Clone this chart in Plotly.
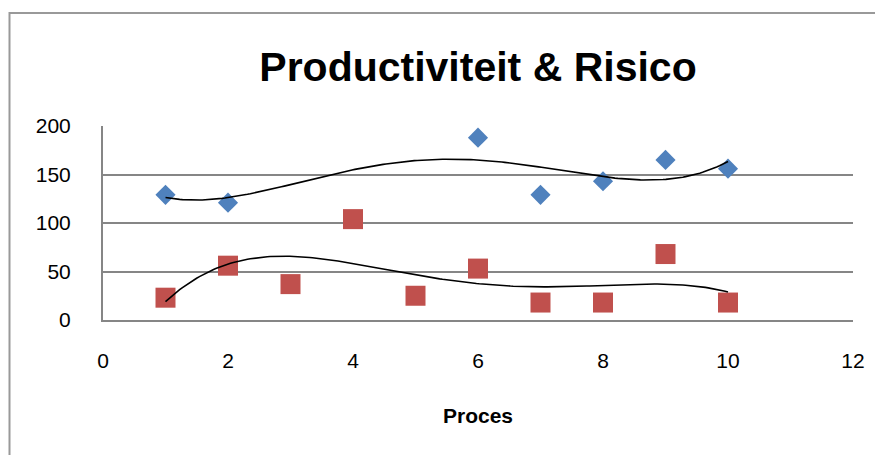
import numpy as np
import plotly.graph_objects as go

title_text = "Productiviteit & Risico"
x_title = "Proces"

prod_x = [1, 2, 6, 7, 8, 9, 10]
prod_y = [129, 121, 188, 129, 143, 165, 156]

risk_x = [1, 2, 3, 4, 5, 6, 7, 8, 9, 10]
risk_y = [23, 56, 37, 104, 25, 53, 18, 18, 68, 18]

x_ticks = [0, 2, 4, 6, 8, 10, 12]
y_ticks = [0, 50, 100, 150, 200]

BLUE = "#4F81BD"
RED = "#C0504D"
GRID = "#868686"
FONT = "Liberation Sans, Arial, sans-serif"

# page body has an 8px default margin; compensate so the chart lands at the window origin
OFF = 8
W, H = 883 - OFF, 455 - OFF


def trend(xs, ys, deg=4):
    c = np.polyfit(xs, ys, deg)
    xx = np.linspace(min(xs), max(xs), 200)
    return xx, np.polyval(c, xx)


fig = go.Figure()

fig.add_trace(go.Scatter(x=prod_x, y=prod_y, mode="markers", name="Productiviteit",
                         marker=dict(symbol="diamond", size=15.5, color=BLUE, line=dict(width=0))))
fig.add_trace(go.Scatter(x=risk_x, y=risk_y, mode="markers", name="Risico",
                         marker=dict(symbol="square", size=20, color=RED, line=dict(width=0))))

tx, ty = trend(prod_x, prod_y)
fig.add_trace(go.Scatter(x=tx, y=ty, mode="lines", line=dict(color="black", width=1.6),
                         hoverinfo="skip", showlegend=False))
tx2, ty2 = trend(risk_x, risk_y)
fig.add_trace(go.Scatter(x=tx2, y=ty2, mode="lines", line=dict(color="black", width=1.6),
                         hoverinfo="skip", showlegend=False))

plot_top, plot_bottom, plot_left, plot_right = 126, 320, 103, 853
ph = plot_bottom - plot_top
pw = plot_right - plot_left

fig.update_layout(
    width=W, height=H,
    margin=dict(l=plot_left - OFF, r=883 - plot_right, t=plot_top - OFF, b=455 - plot_bottom),
    paper_bgcolor="white", plot_bgcolor="white",
    showlegend=False,
    font=dict(family=FONT, size=21, color="black"),
    title=dict(text=f"<b>{title_text}</b>", x=0.5, xanchor="center", xref="paper",
               y=1 - (67 - OFF) / H, yanchor="middle", font=dict(family=FONT, size=41, color="black")),
    xaxis=dict(range=[0, 12], tickvals=x_ticks, ticktext=[str(v) for v in x_ticks],
               showgrid=False, zeroline=False, showline=True, linecolor=GRID, linewidth=2,
               ticks="", ticklabelstandoff=21, tickfont=dict(size=21)),
    yaxis=dict(range=[0, 200], tickvals=y_ticks, ticktext=[str(v) for v in y_ticks],
               showgrid=True, gridcolor=GRID, gridwidth=2, zeroline=False,
               showline=True, linecolor=GRID, linewidth=2,
               ticks="", ticklabelstandoff=26, tickfont=dict(size=21)),
    annotations=[dict(text=f"<b>{x_title}</b>", x=0.5, xref="paper", y=(plot_bottom - 415) / ph,
                      yref="paper", xanchor="center", yanchor="middle", showarrow=False,
                      font=dict(family=FONT, size=21, color="black"))],
    shapes=[dict(type="rect", xref="paper", yref="paper",
                 x0=(OFF + 1.5 - plot_left) / pw, x1=1.3, y0=-1.5, y1=(plot_bottom - 13) / ph,
                 line=dict(color="#999999", width=2), fillcolor="rgba(0,0,0,0)", layer="below")],
)

fig.write_html("out.html")
